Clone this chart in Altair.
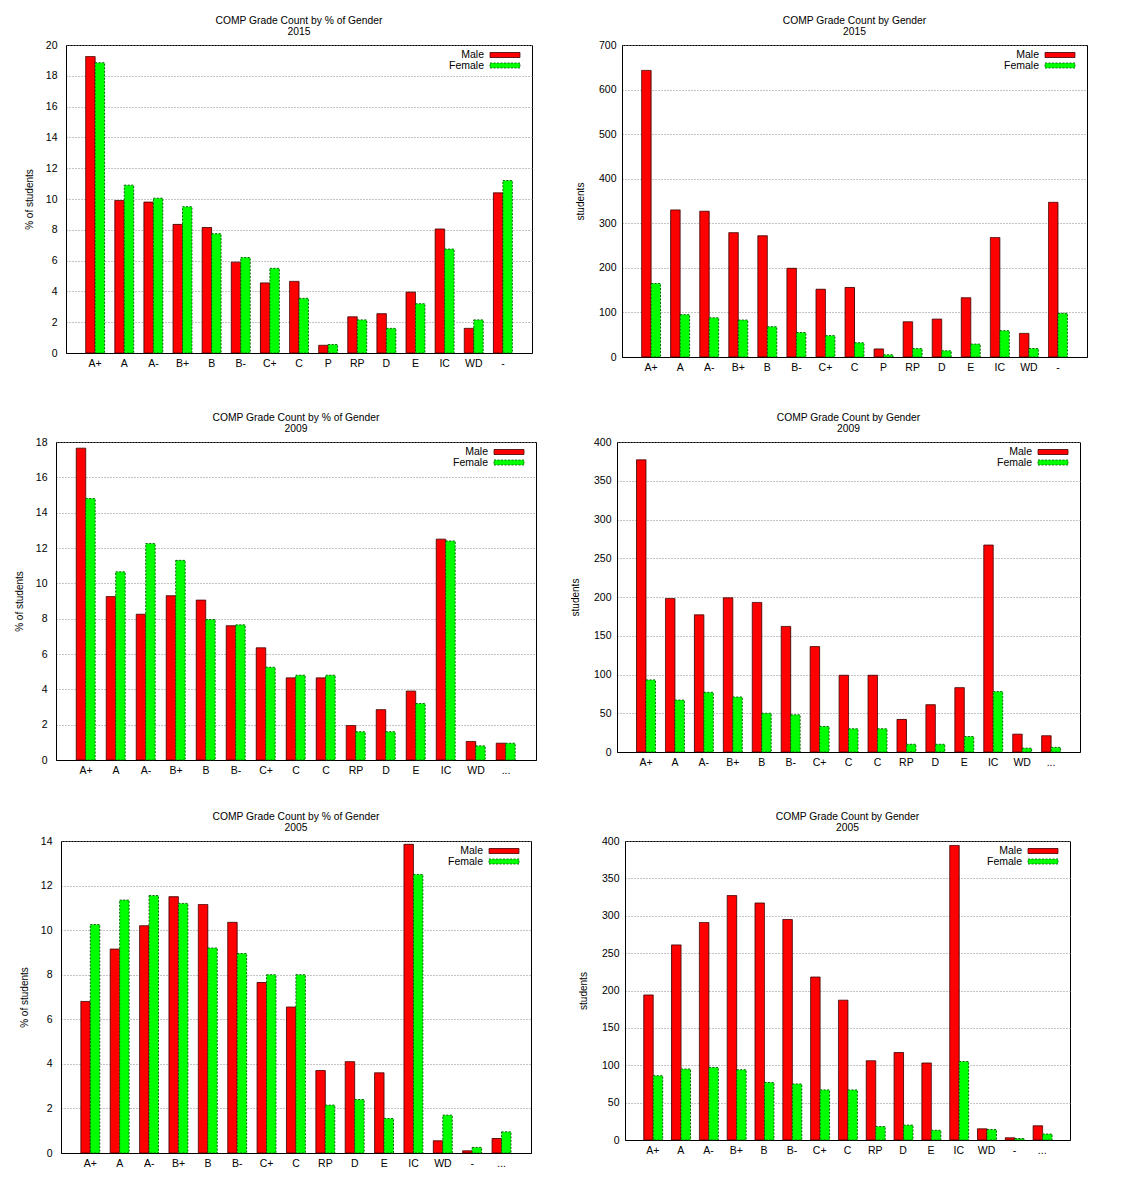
import altair as alt
import pandas as pd

FONT = "Liberation Sans"

# ---------------- data ----------------
cats_2015 = ["A+", "A", "A-", "B+", "B", "B-", "C+", "C", "P", "RP", "D", "E", "IC", "WD", "-"]
pct_male_2015 = [19.25, 9.9, 9.8, 8.35, 8.15, 5.9, 4.55, 4.65, 0.5, 2.35, 2.55, 3.95, 8.05, 1.6, 10.4]
pct_female_2015 = [18.85, 10.9, 10.05, 9.5, 7.75, 6.2, 5.5, 3.55, 0.55, 2.15, 1.6, 3.2, 6.75, 2.15, 11.2]
cnt_male_2015 = [643, 330, 327, 279, 272, 199, 152, 156, 18, 79, 85, 133, 268, 53, 347]
cnt_female_2015 = [165, 95, 88, 83, 68, 55, 48, 32, 5, 19, 14, 29, 59, 19, 98]

cats_2009 = ["A+", "A", "A-", "B+", "B", "B-", "C+", "C", "C", "RP", "D", "E", "IC", "WD", "..."]
pct_male_2009 = [17.65, 9.25, 8.25, 9.3, 9.05, 7.6, 6.35, 4.65, 4.65, 1.95, 2.85, 3.9, 12.5, 1.05, 0.95]
pct_female_2009 = [14.8, 10.65, 12.25, 11.3, 7.95, 7.65, 5.25, 4.8, 4.8, 1.6, 1.6, 3.2, 12.4, 0.8, 0.95]
cnt_male_2009 = [377, 198, 177, 199, 193, 162, 136, 99, 99, 42, 61, 83, 267, 23, 21]
cnt_female_2009 = [93, 67, 77, 71, 50, 48, 33, 30, 30, 10, 10, 20, 78, 5, 6]

cats_2005 = ["A+", "A", "A-", "B+", "B", "B-", "C+", "C", "RP", "D", "E", "IC", "WD", "-", "..."]
pct_male_2005 = [6.8, 9.15, 10.2, 11.5, 11.15, 10.35, 7.65, 6.55, 3.7, 4.1, 3.6, 13.85, 0.55, 0.1, 0.65]
pct_female_2005 = [10.25, 11.35, 11.55, 11.2, 9.2, 8.95, 8.0, 8.0, 2.15, 2.4, 1.55, 12.5, 1.7, 0.25, 0.95]
cnt_male_2005 = [194, 261, 291, 327, 317, 295, 218, 187, 106, 117, 103, 394, 15, 3, 19]
cnt_female_2005 = [86, 95, 97, 94, 77, 75, 67, 67, 18, 20, 13, 105, 14, 2, 8]

genders = ["Male", "Female"]
gender_colors = ["#ff0000", "#00ff00"]
gender_strokes = ["#400000", "#005000"]
gender_dashes = [[1, 0], [2, 1.5]]

BORDER = alt.ViewBackground(stroke="#000", strokeWidth=1)


def panel(title, year, cats, male, female, ytitle, ymax, ystep, w, h, label_pad, title_pad):
    rows = []
    for i, c in enumerate(cats):
        rows.append({"idx": i, "gender": "Male", "value": male[i]})
        rows.append({"idx": i, "gender": "Female", "value": female[i]})
    df = pd.DataFrame(rows)
    label_expr = "[" + ",".join("'" + c + "'" for c in cats) + "][datum.value]"

    bars = alt.Chart(df).mark_bar(strokeWidth=0.9).encode(
        x=alt.X("idx:O",
                scale=alt.Scale(paddingInner=0.35, paddingOuter=0.675),
                axis=alt.Axis(title=None, labelExpr=label_expr, labelAngle=0,
                              ticks=False, labelPadding=5)),
        xOffset=alt.XOffset("gender:N", sort=genders,
                            scale=alt.Scale(domain=genders, paddingInner=0, paddingOuter=0)),
        y=alt.Y("value:Q",
                scale=alt.Scale(domain=[0, ymax], nice=False, zero=True),
                axis=alt.Axis(title=ytitle, values=list(range(0, ymax + 1, ystep)),
                              grid=True, gridDash=[1, 2], gridColor="#888",
                              ticks=False, labelPadding=label_pad, titlePadding=title_pad)),
        color=alt.Color("gender:N", scale=alt.Scale(domain=genders, range=gender_colors),
                        legend=None),
        stroke=alt.Stroke("gender:N", scale=alt.Scale(domain=genders, range=gender_strokes),
                          legend=None),
        strokeDash=alt.StrokeDash("gender:N",
                                  scale=alt.Scale(domain=genders, range=gender_dashes),
                                  legend=None),
    )

    # key box (gnuplot style: label on the left, wide swatch on the right)
    layers = [bars]
    for k, g in enumerate(genders):
        yc = 10 + 10.5 * k
        layers.append(
            alt.Chart(pd.DataFrame({"t": [g]})).mark_text(
                align="right", baseline="middle", font=FONT, fontSize=10.5, color="#000"
            ).encode(x=alt.value(w - 48), y=alt.value(yc), text="t:N")
        )
        layers.append(
            alt.Chart(pd.DataFrame({"t": [g]})).mark_rect(
                color=gender_colors[k], stroke=gender_strokes[k], strokeWidth=0.8,
                strokeDash=gender_dashes[k]
            ).encode(x=alt.value(w - 42), x2=alt.value(w - 12),
                     y=alt.value(yc - 2.5), y2=alt.value(yc + 2.5))
        )

    return alt.layer(*layers).properties(
        width=w, height=h, view=BORDER,
        title=alt.TitleParams([title, year], fontSize=10.3, fontWeight="normal", font=FONT,
                              anchor="middle", offset=3, lineHeight=11, color="#000"),
    )


def spacer(wd):
    return alt.Chart(pd.DataFrame({"a": [0]})).mark_point(
        opacity=0, size=0, strokeWidth=0).encode(
        x=alt.value(0), y=alt.value(0)).properties(width=wd, height=10)


t_pct = "COMP Grade Count by % of Gender"
t_cnt = "COMP Grade Count by Gender"

p1 = panel(t_pct, "2015", cats_2015, pct_male_2015, pct_female_2015, "% of students", 20, 2, 466, 308, 9, 11)
p2 = panel(t_cnt, "2015", cats_2015, cnt_male_2015, cnt_female_2015, "students", 700, 100, 465, 312, 6, 13)
p3 = panel(t_pct, "2009", cats_2009, pct_male_2009, pct_female_2009, "% of students", 18, 2, 480, 318, 9, 11)
p4 = panel(t_cnt, "2009", cats_2009, cnt_male_2009, cnt_female_2009, "students", 400, 50, 463, 310, 6, 13)
p5 = panel(t_pct, "2005", cats_2005, pct_male_2005, pct_female_2005, "% of students", 14, 2, 470, 312, 9, 11)
p6 = panel(t_cnt, "2005", cats_2005, cnt_male_2005, cnt_female_2005, "students", 400, 50, 445, 299, 6, 13)

row1 = alt.hconcat(spacer(11), alt.hconcat(p1, p2, spacing=41), spacing=0)
row2 = alt.hconcat(spacer(1.5), alt.hconcat(p3, p4, spacing=32), spacing=0)
row3 = alt.hconcat(spacer(6.5), alt.hconcat(p5, p6, spacing=45), spacing=0)

chart = (
    alt.vconcat(alt.vconcat(row1, row2, spacing=39), row3, spacing=35)
    .properties(padding={"left": 2, "top": 7, "right": 5, "bottom": 5})
    .configure_view(stroke="transparent")
    .configure_axis(labelFont=FONT, titleFont=FONT, labelFontSize=10.5, titleFontSize=10,
                    titleFontWeight="normal", labelColor="#000", titleColor="#000",
                    domainColor="#000", tickColor="#000")
)

chart.save("out.html", embed_options={"renderer": "svg", "actions": False})
